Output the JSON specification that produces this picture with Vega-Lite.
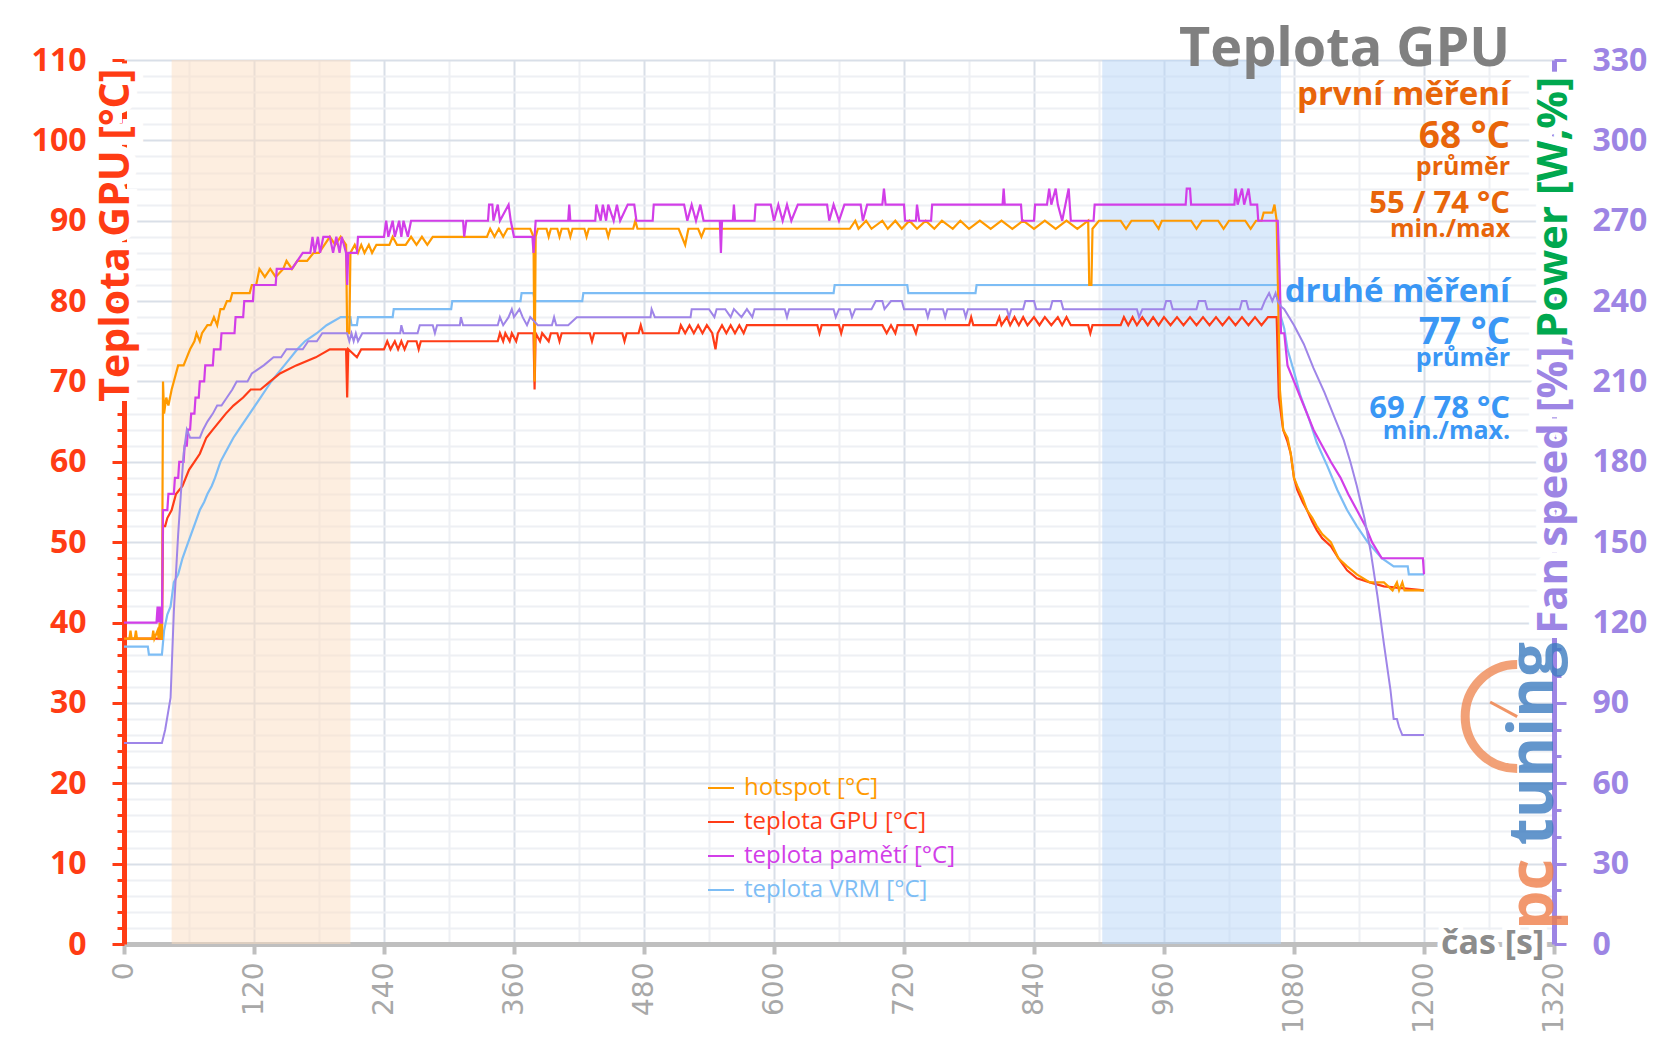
{
"$schema": "https://vega.github.io/schema/vega-lite/v6.json",
"width": 1430, "height": 884,
"autosize": {"type": "none"},
"padding": {"left": 124, "top": 60, "right": 102, "bottom": 99},
"background": "white",
"config": {"view": {"stroke": null}, "font": "Open Sans"},
"datasets": {
"one": [{}],
"bands": [{"t0": 44, "t1": 209, "b": "o"}, {"t0": 903, "t1": 1068, "b": "b"}],
"hot": [{"t":0,"v":38},{"t":5,"v":38},{"t":6,"v":39},{"t":7,"v":38},{"t":10,"v":38},{"t":11,"v":39},{"t":12,"v":38},{"t":26,"v":38},{"t":27,"v":39},{"t":28,"v":38},{"t":31,"v":39},{"t":32,"v":38},{"t":33,"v":40},{"t":34,"v":38},{"t":35,"v":38},{"t":36,"v":70},{"t":37,"v":66},{"t":39,"v":68},{"t":41,"v":67},{"t":44,"v":69},{"t":46,"v":70},{"t":50,"v":72},{"t":55,"v":72},{"t":58,"v":73},{"t":61,"v":74},{"t":65,"v":75},{"t":67,"v":76},{"t":70,"v":75},{"t":72,"v":76},{"t":77,"v":77},{"t":80,"v":77},{"t":83,"v":78},{"t":86,"v":77},{"t":89,"v":79},{"t":92,"v":79},{"t":95,"v":80},{"t":98,"v":80},{"t":100,"v":81},{"t":116,"v":81},{"t":118,"v":82},{"t":122,"v":82},{"t":125,"v":84},{"t":130,"v":83},{"t":135,"v":84},{"t":140,"v":83},{"t":147,"v":84},{"t":150,"v":85},{"t":155,"v":84},{"t":160,"v":85},{"t":169,"v":85},{"t":175,"v":86},{"t":180,"v":86},{"t":185,"v":87},{"t":190,"v":88},{"t":195,"v":87},{"t":200,"v":88},{"t":205,"v":87},{"t":206,"v":76},{"t":208,"v":76},{"t":209,"v":86},{"t":213,"v":87},{"t":216,"v":86},{"t":219,"v":87},{"t":222,"v":86},{"t":226,"v":87},{"t":229,"v":86},{"t":233,"v":87},{"t":245,"v":87},{"t":248,"v":88},{"t":252,"v":87},{"t":260,"v":87},{"t":265,"v":88},{"t":270,"v":87},{"t":275,"v":88},{"t":280,"v":87},{"t":285,"v":88},{"t":335,"v":88},{"t":338,"v":89},{"t":342,"v":88},{"t":346,"v":89},{"t":350,"v":88},{"t":354,"v":89},{"t":375,"v":89},{"t":378,"v":88},{"t":379,"v":70},{"t":380,"v":88},{"t":382,"v":89},{"t":390,"v":89},{"t":392,"v":88},{"t":394,"v":89},{"t":400,"v":89},{"t":402,"v":88},{"t":404,"v":89},{"t":410,"v":89},{"t":412,"v":88},{"t":414,"v":89},{"t":425,"v":89},{"t":427,"v":88},{"t":429,"v":89},{"t":445,"v":89},{"t":447,"v":88},{"t":449,"v":89},{"t":470,"v":89},{"t":472,"v":90},{"t":474,"v":89},{"t":512,"v":89},{"t":515,"v":88},{"t":518,"v":87},{"t":521,"v":89},{"t":530,"v":89},{"t":533,"v":88},{"t":536,"v":89},{"t":670,"v":89},{"t":675,"v":90},{"t":678,"v":89},{"t":685,"v":90},{"t":690,"v":89},{"t":700,"v":90},{"t":705,"v":89},{"t":712,"v":90},{"t":718,"v":89},{"t":725,"v":90},{"t":732,"v":89},{"t":740,"v":90},{"t":748,"v":89},{"t":755,"v":90},{"t":765,"v":89},{"t":772,"v":90},{"t":780,"v":89},{"t":790,"v":90},{"t":800,"v":89},{"t":810,"v":90},{"t":820,"v":89},{"t":830,"v":90},{"t":840,"v":89},{"t":850,"v":90},{"t":860,"v":89},{"t":870,"v":90},{"t":880,"v":89},{"t":890,"v":90},{"t":891,"v":82},{"t":893,"v":82},{"t":894,"v":89},{"t":900,"v":90},{"t":920,"v":90},{"t":925,"v":89},{"t":930,"v":90},{"t":950,"v":90},{"t":955,"v":89},{"t":958,"v":90},{"t":985,"v":90},{"t":990,"v":89},{"t":995,"v":90},{"t":1010,"v":90},{"t":1015,"v":89},{"t":1020,"v":90},{"t":1035,"v":90},{"t":1040,"v":89},{"t":1045,"v":90},{"t":1050,"v":90},{"t":1052,"v":91},{"t":1060,"v":91},{"t":1062,"v":92},{"t":1064,"v":90},{"t":1067,"v":69},{"t":1070,"v":64},{"t":1074,"v":63},{"t":1077,"v":61},{"t":1080,"v":58},{"t":1083,"v":57},{"t":1088,"v":55.5},{"t":1092,"v":54},{"t":1097,"v":53},{"t":1101,"v":52},{"t":1106,"v":51},{"t":1114,"v":50},{"t":1121,"v":48},{"t":1129,"v":47},{"t":1138,"v":46},{"t":1150,"v":45},{"t":1163,"v":45},{"t":1171,"v":44},{"t":1175,"v":45},{"t":1177,"v":44},{"t":1180,"v":45},{"t":1182,"v":44},{"t":1200,"v":44}],
"gpu": [{"t":0,"v":38},{"t":35,"v":38},{"t":36,"v":52},{"t":38,"v":52},{"t":40,"v":53},{"t":44,"v":54},{"t":48,"v":56},{"t":54,"v":57},{"t":57,"v":58},{"t":60,"v":59},{"t":65,"v":60},{"t":70,"v":61},{"t":76,"v":63},{"t":82,"v":64},{"t":88,"v":65},{"t":94,"v":66},{"t":101,"v":67},{"t":110,"v":68},{"t":117,"v":69},{"t":126,"v":69},{"t":135,"v":70},{"t":144,"v":71},{"t":159,"v":72},{"t":177,"v":73},{"t":190,"v":74},{"t":205,"v":74},{"t":206,"v":68},{"t":207,"v":74},{"t":215,"v":73},{"t":219,"v":74},{"t":240,"v":74},{"t":243,"v":75},{"t":246,"v":74},{"t":250,"v":75},{"t":253,"v":74},{"t":256,"v":75},{"t":259,"v":74},{"t":262,"v":75},{"t":270,"v":75},{"t":272,"v":74},{"t":274,"v":75},{"t":345,"v":75},{"t":347,"v":76},{"t":350,"v":75},{"t":352,"v":76},{"t":356,"v":75},{"t":358,"v":76},{"t":362,"v":75},{"t":364,"v":76},{"t":378,"v":76},{"t":379,"v":69},{"t":380,"v":76},{"t":384,"v":75},{"t":386,"v":76},{"t":392,"v":75},{"t":394,"v":76},{"t":400,"v":76},{"t":402,"v":75},{"t":404,"v":76},{"t":430,"v":76},{"t":432,"v":75},{"t":434,"v":76},{"t":460,"v":76},{"t":462,"v":75},{"t":464,"v":76},{"t":475,"v":76},{"t":477,"v":77},{"t":479,"v":76},{"t":512,"v":76},{"t":514,"v":77},{"t":518,"v":76},{"t":522,"v":77},{"t":526,"v":76},{"t":530,"v":77},{"t":534,"v":76},{"t":538,"v":77},{"t":543,"v":76},{"t":546,"v":74},{"t":548,"v":76},{"t":552,"v":77},{"t":556,"v":76},{"t":560,"v":77},{"t":564,"v":76},{"t":568,"v":77},{"t":572,"v":76},{"t":575,"v":77},{"t":640,"v":77},{"t":642,"v":76},{"t":644,"v":77},{"t":660,"v":77},{"t":662,"v":76},{"t":664,"v":77},{"t":700,"v":77},{"t":704,"v":76},{"t":708,"v":77},{"t":712,"v":76},{"t":714,"v":77},{"t":728,"v":77},{"t":731,"v":76},{"t":733,"v":77},{"t":780,"v":77},{"t":782,"v":78},{"t":784,"v":77},{"t":805,"v":77},{"t":808,"v":78},{"t":810,"v":77},{"t":815,"v":78},{"t":818,"v":77},{"t":822,"v":78},{"t":826,"v":77},{"t":830,"v":78},{"t":834,"v":77},{"t":840,"v":78},{"t":845,"v":77},{"t":850,"v":78},{"t":856,"v":77},{"t":862,"v":78},{"t":866,"v":77},{"t":870,"v":78},{"t":874,"v":77},{"t":890,"v":77},{"t":892,"v":76},{"t":894,"v":77},{"t":920,"v":77},{"t":923,"v":78},{"t":927,"v":77},{"t":931,"v":78},{"t":935,"v":77},{"t":940,"v":78},{"t":945,"v":77},{"t":950,"v":78},{"t":955,"v":77},{"t":960,"v":78},{"t":966,"v":77},{"t":972,"v":78},{"t":978,"v":77},{"t":984,"v":78},{"t":990,"v":77},{"t":996,"v":78},{"t":1002,"v":77},{"t":1008,"v":78},{"t":1014,"v":77},{"t":1020,"v":78},{"t":1026,"v":77},{"t":1032,"v":78},{"t":1038,"v":77},{"t":1044,"v":78},{"t":1050,"v":77},{"t":1056,"v":78},{"t":1064,"v":78},{"t":1066,"v":68},{"t":1070,"v":64},{"t":1074,"v":62.5},{"t":1077,"v":61},{"t":1080,"v":58},{"t":1083,"v":56.5},{"t":1088,"v":55},{"t":1092,"v":54},{"t":1097,"v":52.5},{"t":1101,"v":51.5},{"t":1106,"v":50.5},{"t":1114,"v":49.5},{"t":1121,"v":48},{"t":1129,"v":46.5},{"t":1138,"v":45.5},{"t":1150,"v":45},{"t":1163,"v":44.5},{"t":1200,"v":44}],
"mem": [{"t":0,"v":40},{"t":30,"v":40},{"t":31,"v":42},{"t":32,"v":40},{"t":33,"v":42},{"t":34,"v":40},{"t":35,"v":40},{"t":36,"v":54},{"t":40,"v":54},{"t":41,"v":56},{"t":46,"v":56},{"t":47,"v":58},{"t":50,"v":58},{"t":51,"v":60},{"t":55,"v":60},{"t":56,"v":62},{"t":58,"v":62},{"t":59,"v":64},{"t":61,"v":64},{"t":62,"v":66},{"t":65,"v":66},{"t":66,"v":68},{"t":69,"v":68},{"t":70,"v":70},{"t":74,"v":70},{"t":75,"v":72},{"t":82,"v":72},{"t":83,"v":74},{"t":89,"v":74},{"t":90,"v":76},{"t":102,"v":76},{"t":103,"v":78},{"t":110,"v":78},{"t":111,"v":80},{"t":119,"v":80},{"t":120,"v":82},{"t":140,"v":82},{"t":141,"v":84},{"t":155,"v":84},{"t":160,"v":85},{"t":165,"v":86},{"t":172,"v":86},{"t":174,"v":88},{"t":176,"v":86},{"t":179,"v":88},{"t":181,"v":86},{"t":184,"v":88},{"t":190,"v":88},{"t":193,"v":86},{"t":196,"v":88},{"t":199,"v":86},{"t":201,"v":88},{"t":205,"v":86},{"t":206,"v":82},{"t":207,"v":86},{"t":215,"v":86},{"t":216,"v":88},{"t":240,"v":88},{"t":242,"v":90},{"t":244,"v":88},{"t":248,"v":90},{"t":250,"v":88},{"t":254,"v":90},{"t":256,"v":88},{"t":258,"v":90},{"t":262,"v":88},{"t":265,"v":90},{"t":313,"v":90},{"t":314,"v":88},{"t":316,"v":90},{"t":336,"v":90},{"t":337,"v":92},{"t":340,"v":92},{"t":341,"v":90},{"t":345,"v":92},{"t":347,"v":90},{"t":355,"v":92},{"t":357,"v":90},{"t":360,"v":88},{"t":377,"v":88},{"t":378,"v":86},{"t":380,"v":90},{"t":410,"v":90},{"t":411,"v":92},{"t":412,"v":90},{"t":435,"v":90},{"t":436,"v":92},{"t":440,"v":90},{"t":442,"v":92},{"t":445,"v":90},{"t":447,"v":92},{"t":452,"v":90},{"t":455,"v":92},{"t":458,"v":90},{"t":465,"v":92},{"t":471,"v":92},{"t":473,"v":90},{"t":488,"v":90},{"t":489,"v":92},{"t":517,"v":92},{"t":520,"v":90},{"t":524,"v":92},{"t":528,"v":90},{"t":532,"v":92},{"t":535,"v":90},{"t":550,"v":90},{"t":551,"v":86},{"t":552,"v":90},{"t":562,"v":90},{"t":563,"v":92},{"t":564,"v":90},{"t":582,"v":90},{"t":583,"v":92},{"t":597,"v":92},{"t":600,"v":90},{"t":604,"v":92},{"t":608,"v":90},{"t":612,"v":92},{"t":616,"v":90},{"t":622,"v":92},{"t":649,"v":92},{"t":651,"v":90},{"t":655,"v":92},{"t":660,"v":90},{"t":665,"v":92},{"t":680,"v":92},{"t":682,"v":90},{"t":686,"v":92},{"t":700,"v":92},{"t":701.5,"v":94},{"t":703,"v":92},{"t":720,"v":92},{"t":721,"v":90},{"t":731,"v":90},{"t":732,"v":92},{"t":734,"v":90},{"t":745,"v":90},{"t":746,"v":92},{"t":811,"v":92},{"t":812,"v":94},{"t":813,"v":92},{"t":828,"v":92},{"t":829,"v":90},{"t":840,"v":90},{"t":841,"v":92},{"t":852,"v":92},{"t":854,"v":94},{"t":856,"v":92},{"t":860,"v":94},{"t":862,"v":92},{"t":866,"v":90},{"t":872,"v":94},{"t":874,"v":90},{"t":895,"v":90},{"t":896,"v":92},{"t":980,"v":92},{"t":981,"v":94},{"t":984,"v":94},{"t":985,"v":92},{"t":1025,"v":92},{"t":1026,"v":94},{"t":1028,"v":92},{"t":1032,"v":94},{"t":1034,"v":92},{"t":1038,"v":94},{"t":1040,"v":92},{"t":1046,"v":92},{"t":1047,"v":90},{"t":1065,"v":90},{"t":1067,"v":82},{"t":1068,"v":76},{"t":1071,"v":76},{"t":1074,"v":72},{"t":1080,"v":70},{"t":1086,"v":68},{"t":1092,"v":66},{"t":1098,"v":64},{"t":1106,"v":62},{"t":1114,"v":60},{"t":1123,"v":58},{"t":1130,"v":56},{"t":1138,"v":54},{"t":1146,"v":52},{"t":1152,"v":50},{"t":1161,"v":48},{"t":1199,"v":48},{"t":1200,"v":46}],
"vrm": [{"t":0,"v":37},{"t":22,"v":37},{"t":23,"v":36},{"t":35,"v":36},{"t":37,"v":39},{"t":40,"v":41},{"t":43,"v":42},{"t":46,"v":45},{"t":50,"v":46},{"t":54,"v":48},{"t":58,"v":49.5},{"t":62,"v":51},{"t":66,"v":52.5},{"t":70,"v":54},{"t":74,"v":55},{"t":77,"v":56},{"t":81,"v":57},{"t":84,"v":58},{"t":89,"v":60},{"t":93,"v":61},{"t":97,"v":62},{"t":101,"v":63},{"t":106,"v":64},{"t":111,"v":65},{"t":116,"v":66},{"t":121,"v":67},{"t":126,"v":68},{"t":131,"v":69},{"t":136,"v":70},{"t":142,"v":71},{"t":148,"v":72},{"t":154,"v":73},{"t":160,"v":74},{"t":167,"v":75},{"t":178,"v":76},{"t":187,"v":77},{"t":200,"v":78},{"t":209,"v":78},{"t":210,"v":77},{"t":215,"v":77},{"t":216,"v":78},{"t":248,"v":78},{"t":249,"v":79},{"t":302,"v":79},{"t":303,"v":80},{"t":366,"v":80},{"t":367,"v":81},{"t":378,"v":81},{"t":379,"v":80},{"t":423,"v":80},{"t":424,"v":81},{"t":655,"v":81},{"t":656,"v":82},{"t":723,"v":82},{"t":724,"v":81},{"t":786,"v":81},{"t":787,"v":82},{"t":1066,"v":82},{"t":1068,"v":78},{"t":1071,"v":76.6},{"t":1074,"v":74},{"t":1080,"v":71.2},{"t":1086,"v":68.2},{"t":1094,"v":65.3},{"t":1101,"v":62.4},{"t":1111,"v":59.4},{"t":1120,"v":56.5},{"t":1129,"v":54},{"t":1138,"v":52},{"t":1148,"v":50},{"t":1161,"v":48},{"t":1172,"v":47},{"t":1185,"v":47},{"t":1186,"v":46},{"t":1200,"v":46}],
"fan": [{"t":0,"f":75},{"t":35,"f":75},{"t":38,"f":80},{"t":43,"f":92},{"t":46,"f":124},{"t":50,"f":153},{"t":55,"f":183},{"t":58,"f":192},{"t":61,"f":189},{"t":70,"f":189},{"t":73,"f":192},{"t":77,"f":195},{"t":82,"f":198},{"t":86,"f":201},{"t":90,"f":201},{"t":95,"f":204},{"t":100,"f":207},{"t":104,"f":210},{"t":114,"f":210},{"t":118,"f":213},{"t":129,"f":216},{"t":138,"f":219},{"t":145,"f":219},{"t":150,"f":222},{"t":165,"f":222},{"t":170,"f":225},{"t":178,"f":225},{"t":183,"f":228},{"t":206,"f":228},{"t":208,"f":225},{"t":210,"f":228},{"t":212,"f":225},{"t":214,"f":228},{"t":216,"f":225},{"t":220,"f":228},{"t":255,"f":228},{"t":256,"f":231},{"t":258,"f":228},{"t":271,"f":228},{"t":273,"f":231},{"t":285,"f":231},{"t":287,"f":228},{"t":289,"f":231},{"t":310,"f":231},{"t":311,"f":234},{"t":313,"f":231},{"t":345,"f":231},{"t":347,"f":234},{"t":350,"f":231},{"t":355,"f":234},{"t":358,"f":237},{"t":360,"f":234},{"t":365,"f":237},{"t":368,"f":234},{"t":372,"f":231},{"t":375,"f":234},{"t":382,"f":231},{"t":395,"f":231},{"t":397,"f":234},{"t":399,"f":231},{"t":410,"f":231},{"t":418,"f":234},{"t":486,"f":234},{"t":487,"f":237},{"t":490,"f":234},{"t":523,"f":234},{"t":524,"f":237},{"t":540,"f":237},{"t":545,"f":234},{"t":547,"f":237},{"t":555,"f":237},{"t":560,"f":234},{"t":563,"f":237},{"t":570,"f":234},{"t":575,"f":237},{"t":580,"f":234},{"t":582,"f":237},{"t":610,"f":237},{"t":612,"f":234},{"t":614,"f":237},{"t":655,"f":237},{"t":657,"f":234},{"t":660,"f":237},{"t":670,"f":237},{"t":672,"f":234},{"t":675,"f":237},{"t":690,"f":237},{"t":694,"f":240},{"t":700,"f":240},{"t":702,"f":237},{"t":708,"f":240},{"t":718,"f":240},{"t":720,"f":237},{"t":740,"f":237},{"t":742,"f":234},{"t":744,"f":237},{"t":756,"f":237},{"t":758,"f":234},{"t":760,"f":237},{"t":775,"f":237},{"t":777,"f":234},{"t":779,"f":237},{"t":815,"f":237},{"t":817,"f":234},{"t":819,"f":237},{"t":830,"f":237},{"t":832,"f":240},{"t":840,"f":240},{"t":842,"f":237},{"t":855,"f":237},{"t":857,"f":240},{"t":865,"f":240},{"t":867,"f":237},{"t":935,"f":237},{"t":937,"f":234},{"t":940,"f":237},{"t":960,"f":237},{"t":962,"f":240},{"t":966,"f":240},{"t":968,"f":237},{"t":990,"f":237},{"t":992,"f":240},{"t":998,"f":240},{"t":1000,"f":237},{"t":1030,"f":237},{"t":1032,"f":240},{"t":1036,"f":240},{"t":1038,"f":237},{"t":1050,"f":237},{"t":1053,"f":240},{"t":1057,"f":243},{"t":1060,"f":240},{"t":1063,"f":243},{"t":1065,"f":240},{"t":1068,"f":238},{"t":1071,"f":237},{"t":1080,"f":231},{"t":1089,"f":224},{"t":1098,"f":215},{"t":1108,"f":206},{"t":1117,"f":197},{"t":1126,"f":188},{"t":1132,"f":180},{"t":1138,"f":171},{"t":1145,"f":159},{"t":1151,"f":146},{"t":1157,"f":130},{"t":1163,"f":112},{"t":1169,"f":95},{"t":1172,"f":84},{"t":1175,"f":84},{"t":1177,"f":81},{"t":1180,"f":78},{"t":1200,"f":78}],
"notes": [{"text":"první měření","t":1279.5,"v":104.4,"grp":"první","kind":"head"},{"text":"68 °C","t":1279.5,"v":99.1,"grp":"první","kind":"big"},{"text":"průměr","t":1279.5,"v":95.72,"grp":"první","kind":"small"},{"text":"55 / 74 °C","t":1279.5,"v":91.0,"grp":"první","kind":"mid"},{"text":"min./max","t":1279.5,"v":88.0,"grp":"první","kind":"small"},{"text":"druhé měření","t":1279.5,"v":79.9,"grp":"druhé","kind":"head"},{"text":"77 °C","t":1279.5,"v":74.6,"grp":"druhé","kind":"big"},{"text":"průměr","t":1279.5,"v":71.9,"grp":"druhé","kind":"small"},{"text":"69 / 78 °C","t":1279.5,"v":65.5,"grp":"druhé","kind":"mid"},{"text":"min./max.","t":1279.5,"v":62.8,"grp":"druhé","kind":"small"}]
},
"layer": [
{"data": {"name": "bands"}, "transform": [{"filter": "datum.b === 'o'"}],
 "mark": {"type": "rect", "fill": "#fbddc1", "opacity": 0.5},
 "encoding": {
  "x": {"field": "t0", "type": "quantitative", "scale": {"domain": [0, 1320], "nice": false, "zero": false}},
  "x2": {"field": "t1"},
  "y": {"datum": 0, "type": "quantitative", "scale": {"domain": [0, 110], "nice": false}, "axis": null},
  "y2": {"datum": 110}
 }},
{"data": {"name": "bands"}, "transform": [{"filter": "datum.b === 'b'"}],
 "mark": {"type": "rect", "fill": "#b7d5f7", "opacity": 0.5},
 "encoding": {
  "x": {"field": "t0", "type": "quantitative", "scale": {"domain": [0, 1320], "nice": false, "zero": false}},
  "x2": {"field": "t1"},
  "y": {"datum": 0, "type": "quantitative", "scale": {"domain": [0, 110], "nice": false}, "axis": null},
  "y2": {"datum": 110}
 }},
{"data": {"name": "vrm"}, "mark": {"type": "line", "strokeWidth": 2.2},
 "encoding": {
  "x": {"field": "t", "type": "quantitative", "scale": {"domain": [0, 1320], "nice": false, "zero": false},
   "axis": {"title": null, "format": "d", "zindex": 0,
    "values": [0,15,30,45,60,75,90,105,120,135,150,165,180,195,210,225,240,255,270,285,300,315,330,345,360,375,390,405,420,435,450,465,480,495,510,525,540,555,570,585,600,615,630,645,660,675,690,705,720,735,750,765,780,795,810,825,840,855,870,885,900,915,930,945,960,975,990,1005,1020,1035,1050,1065,1080,1095,1110,1125,1140,1155,1170,1185,1200,1215,1230,1245,1260,1275,1290,1305,1320],
    "labelExpr": "datum.value % 120 === 0 ? datum.label : ''",
    "labelAngle": -90, "labelFont": "DejaVu Sans", "labelFontSize": 28, "labelColor": "#a8a8a8", "labelPadding": 8, "labelOverlap": false, "labelBound": false, "labelFlush": false,
    "domainColor": "#bfbfbf", "domainWidth": 5,
    "tickColor": "#bfbfbf", "tickWidth": 4, "tickSize": 10,
    "tickOpacity": {"condition": {"test": "datum.value % 120 === 0", "value": 1}, "value": 0},
    "grid": true, "gridWidth": 2,
    "gridColor": {"condition": {"test": "datum.value % 120 === 0", "value": "#d9dfe8"}, "value": "#eef0f4"}}},
  "y": {"field": "v", "type": "quantitative", "scale": {"domain": [0, 110], "nice": false},
   "axis": {"title": null, "zindex": 0,
    "values": [0,2,4,6,8,10,12,14,16,18,20,22,24,26,28,30,32,34,36,38,40,42,44,46,48,50,52,54,56,58,60,62,64,66,68,70,72,74,76,78,80,82,84,86,88,90,92,94,96,98,100,102,104,106,108,110],
    "labelExpr": "datum.value % 10 === 0 ? datum.label : ''",
    "labelFont": "Open Sans", "labelFontWeight": "bold", "labelFontSize": 32, "labelColor": "#ff3c14", "labelPadding": 26, "labelOverlap": false, "labelBound": false, "labelFlush": false,
    "domainColor": "#ff3c14", "domainWidth": 5,
    "tickColor": "#ff3c14", "tickWidth": 3,
    "tickSize": {"condition": {"test": "datum.value % 10 === 0", "value": 12}, "value": 7},
    "grid": true, "gridWidth": 2,
    "gridColor": {"condition": {"test": "datum.value % 10 === 0", "value": "#d9dfe8"}, "value": "#eef0f4"}}},
  "color": {"datum": "teplota VRM [°C]", "type": "nominal",
   "scale": {"domain": ["hotspot [°C]", "teplota GPU [°C]", "teplota pamětí [°C]", "teplota VRM [°C]"], "range": ["#ff9a00", "#ff3c17", "#d23ee8", "#7dbdf5"]},
   "legend": {"orient": "none", "legendX": 583, "legendY": 714, "title": null, "padding": 0,
    "symbolType": "stroke", "symbolSize": 676, "symbolStrokeWidth": 2, "labelFont": "Open Sans", "labelFontSize": 24, "labelOffset": 9, "rowPadding": 8, "labelLimit": 400,
    "encode": {"labels": {"update": {"fill": {"scale": "color", "field": "value"}}}}}}
 }},
{"data": {"name": "gpu"}, "mark": {"type": "line", "strokeWidth": 2.2},
 "encoding": {
  "x": {"field": "t", "type": "quantitative", "scale": {"domain": [0, 1320], "nice": false, "zero": false}},
  "y": {"field": "v", "type": "quantitative", "scale": {"domain": [0, 110], "nice": false}, "axis": null},
  "color": {"datum": "teplota GPU [°C]", "type": "nominal"}
 }},
{"data": {"name": "hot"}, "mark": {"type": "line", "strokeWidth": 2.2},
 "encoding": {
  "x": {"field": "t", "type": "quantitative", "scale": {"domain": [0, 1320], "nice": false, "zero": false}},
  "y": {"field": "v", "type": "quantitative", "scale": {"domain": [0, 110], "nice": false}, "axis": null},
  "color": {"datum": "hotspot [°C]", "type": "nominal"}
 }},
{"data": {"name": "mem"}, "mark": {"type": "line", "strokeWidth": 2.2},
 "encoding": {
  "x": {"field": "t", "type": "quantitative", "scale": {"domain": [0, 1320], "nice": false, "zero": false}},
  "y": {"field": "v", "type": "quantitative", "scale": {"domain": [0, 110], "nice": false}, "axis": null},
  "color": {"datum": "teplota pamětí [°C]", "type": "nominal"}
 }},
{"data": {"name": "notes"},
 "encoding": {
  "x": {"field": "t", "type": "quantitative", "scale": {"domain": [0, 1320], "nice": false, "zero": false}},
  "y": {"field": "v", "type": "quantitative", "scale": {"domain": [0, 110], "nice": false}, "axis": null},
  "text": {"field": "text"}
 },
 "layer": [
  {"transform": [{"filter": "datum.kind === 'head'"}], "mark": {"type": "text", "align": "right", "baseline": "alphabetic", "font": "Open Sans", "fontWeight": "bold", "fontSize": 33},
   "encoding": {"fill": {"field": "grp", "type": "nominal", "scale": {"domain": ["první", "druhé"], "range": ["#e8650a", "#3a97f5"]}, "legend": null}}},
  {"transform": [{"filter": "datum.kind === 'big'"}], "mark": {"type": "text", "align": "right", "baseline": "alphabetic", "font": "Open Sans", "fontWeight": "bold", "fontSize": 37},
   "encoding": {"fill": {"field": "grp", "type": "nominal", "legend": null}}},
  {"transform": [{"filter": "datum.kind === 'mid'"}], "mark": {"type": "text", "align": "right", "baseline": "alphabetic", "font": "Open Sans", "fontWeight": "bold", "fontSize": 31},
   "encoding": {"fill": {"field": "grp", "type": "nominal", "legend": null}}},
  {"transform": [{"filter": "datum.kind === 'small'"}], "mark": {"type": "text", "align": "right", "baseline": "alphabetic", "font": "Open Sans", "fontWeight": "bold", "fontSize": 25},
   "encoding": {"fill": {"field": "grp", "type": "nominal", "legend": null}}}
 ]},
{"data": {"name": "one"},
 "layer": [
  {"mark": {"type": "text", "text": "Teplota GPU", "align": "right", "baseline": "alphabetic", "font": "Open Sans", "fontWeight": "bold", "fontSize": 54, "fill": "#808080"},
   "encoding": {"x": {"datum": 1279.5, "type": "quantitative", "scale": {"domain": [0, 1320], "nice": false, "zero": false}}, "y": {"datum": 109.3, "type": "quantitative", "scale": {"domain": [0, 110], "nice": false}, "axis": null}}},
  {"mark": {"type": "text", "text": "Teplota GPU [°C]", "angle": 270, "dy": -7, "align": "center", "baseline": "middle", "font": "Open Sans", "fontWeight": "bold", "fontSize": 41, "fill": "white", "stroke": "white", "strokeWidth": 16},
   "encoding": {"x": {"datum": 0, "type": "quantitative"}, "y": {"datum": 88.2, "type": "quantitative", "axis": null}}},
  {"mark": {"type": "text", "text": "Teplota GPU [°C]", "angle": 270, "dy": -7, "align": "center", "baseline": "middle", "font": "Open Sans", "fontWeight": "bold", "fontSize": 41, "fill": "#ff3c14"},
   "encoding": {"x": {"datum": 0, "type": "quantitative"}, "y": {"datum": 88.2, "type": "quantitative", "axis": null}}},
  {"mark": {"type": "point", "shape": "M 0 -1 A 1 1 0 0 0 0 1", "size": 10816, "filled": false, "stroke": "#f08a56", "strokeWidth": 9, "opacity": 0.8},
   "encoding": {"x": {"datum": 1286, "type": "quantitative"}, "y": {"datum": 28.3, "type": "quantitative", "axis": null}}},
  {"mark": {"type": "point", "shape": "M 0 0 L -0.52 -0.28", "size": 10816, "filled": false, "stroke": "#f08a56", "strokeWidth": 3, "opacity": 0.9},
   "encoding": {"x": {"datum": 1286, "type": "quantitative"}, "y": {"datum": 28.3, "type": "quantitative", "axis": null}}},
  {"mark": {"type": "text", "text": "Fan speed [%], ", "angle": 270, "align": "left", "baseline": "middle", "font": "Open Sans", "fontWeight": "bold", "fontSize": 42, "fill": "white", "stroke": "white", "strokeWidth": 16},
   "encoding": {"x": {"datum": 1320, "type": "quantitative"}, "y": {"datum": 38.6, "type": "quantitative", "axis": null}}},
  {"mark": {"type": "text", "text": "Power [W,%]", "angle": 270, "align": "right", "baseline": "middle", "font": "Open Sans", "fontWeight": "bold", "fontSize": 42, "fill": "white", "stroke": "white", "strokeWidth": 16},
   "encoding": {"x": {"datum": 1320, "type": "quantitative"}, "y": {"datum": 107.9, "type": "quantitative", "axis": null}}},
  {"mark": {"type": "text", "text": "tuning", "angle": 270, "align": "left", "baseline": "alphabetic", "font": "Open Sans", "fontWeight": "bold", "fontSize": 62, "fill": "#3d7cc0", "opacity": 0.8},
   "encoding": {"x": {"datum": 1319, "type": "quantitative"}, "y": {"datum": 12.3, "type": "quantitative", "axis": null}}},
  {"mark": {"type": "text", "text": "pc", "angle": 270, "align": "left", "baseline": "alphabetic", "font": "Open Sans", "fontWeight": "bold", "fontSize": 62, "fill": "#f07f4a", "opacity": 0.8},
   "encoding": {"x": {"datum": 1319, "type": "quantitative"}, "y": {"datum": 1.77, "type": "quantitative", "axis": null}}},
  {"mark": {"type": "text", "text": "Fan speed [%], ", "angle": 270, "align": "left", "baseline": "middle", "font": "Open Sans", "fontWeight": "bold", "fontSize": 42, "fill": "#9d85e4"},
   "encoding": {"x": {"datum": 1320, "type": "quantitative"}, "y": {"datum": 38.6, "type": "quantitative", "axis": null}}},
  {"mark": {"type": "text", "text": "Power [W,%]", "angle": 270, "align": "right", "baseline": "middle", "font": "Open Sans", "fontWeight": "bold", "fontSize": 42, "fill": "#00a84f"},
   "encoding": {"x": {"datum": 1320, "type": "quantitative"}, "y": {"datum": 107.9, "type": "quantitative", "axis": null}}},
  {"mark": {"type": "text", "text": "čas [s]", "align": "right", "baseline": "middle", "font": "Open Sans", "fontWeight": "bold", "fontSize": 34, "fill": "white", "stroke": "white", "strokeWidth": 10},
   "encoding": {"x": {"datum": 1311, "type": "quantitative"}, "y": {"datum": 0, "type": "quantitative", "axis": null}}},
  {"mark": {"type": "text", "text": "čas [s]", "align": "right", "baseline": "middle", "font": "Open Sans", "fontWeight": "bold", "fontSize": 34, "fill": "#8c8c8c"},
   "encoding": {"x": {"datum": 1311, "type": "quantitative"}, "y": {"datum": 0, "type": "quantitative", "axis": null}}}
 ]},
{"data": {"name": "fan"}, "mark": {"type": "line", "strokeWidth": 2, "color": "#9f85e8"},
 "encoding": {
  "x": {"field": "t", "type": "quantitative", "scale": {"domain": [0, 1320], "nice": false, "zero": false}},
  "y": {"field": "f", "type": "quantitative", "scale": {"domain": [0, 330], "nice": false},
   "axis": {"orient": "right", "title": null, "zindex": 0,
    "values": [0,10,20,30,40,50,60,70,80,90,100,110,120,130,140,150,160,170,180,190,200,210,220,230,240,250,260,270,280,290,300,310,320,330],
    "labelExpr": "datum.value % 30 === 0 ? datum.label : ''",
    "labelFont": "Open Sans", "labelFontWeight": "bold", "labelFontSize": 32, "labelColor": "#9d85e4", "labelPadding": 26, "labelOverlap": false, "labelBound": false, "labelFlush": false,
    "domainColor": "#9d85e4", "domainWidth": 5, "tickColor": "#9d85e4", "tickWidth": 3,
    "tickSize": {"condition": {"test": "datum.value % 30 === 0", "value": 12}, "value": 7},
    "grid": false}}
 }}
],
"resolve": {"scale": {"y": "independent"}, "axis": {"y": "independent"}}
}
